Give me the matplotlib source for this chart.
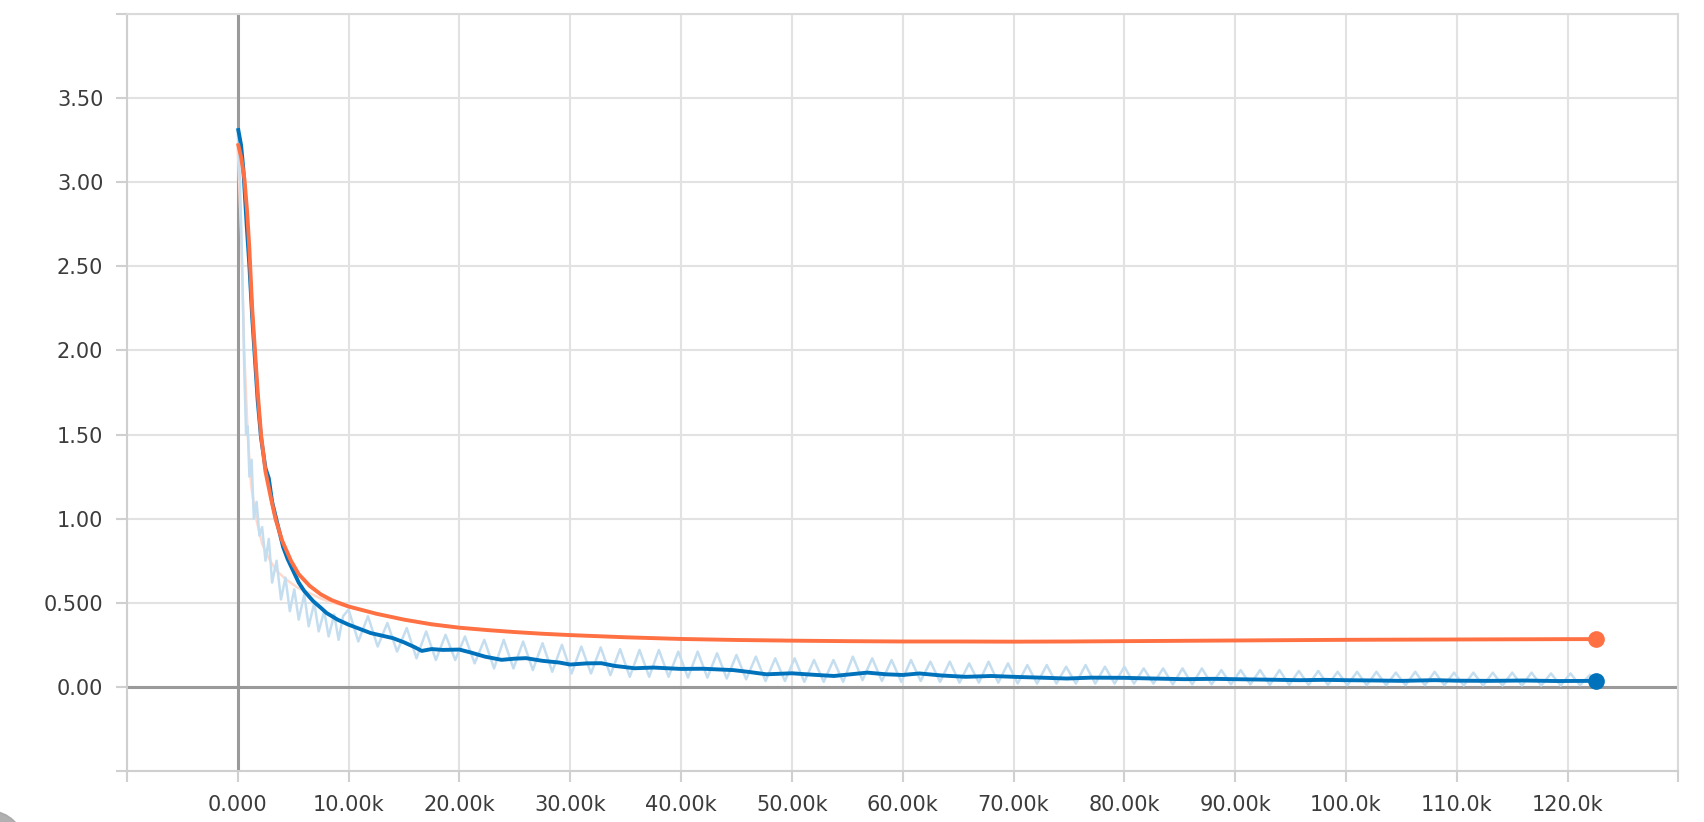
import numpy as np
import matplotlib.pyplot as plt
from matplotlib.patches import Circle
from matplotlib.transforms import IdentityTransform

# steps in thousands
blue_smooth_step = [0.05, 0.3, 0.5, 0.8, 1.05, 1.3, 1.55, 1.8, 2.1, 2.5, 2.8, 3.1, 3.5, 4.1, 4.5,
                    5.0, 5.5, 6.0, 6.8, 7.5, 8.0, 9.0, 10, 11, 12, 13, 14, 15, 16, 16.6, 17.5,
                    18.5, 20, 21, 22.3, 23.8, 25, 26, 27.5, 29, 30, 31.5, 32.8, 34, 35.8, 37.5,
                    40, 42, 44.7, 46, 47.7, 50, 52, 53.8, 56.8, 58.5, 60, 61.5, 63.5, 65.7, 68,
                    70, 72.5, 74.8, 77, 80, 82.5, 85.4, 88, 90, 93, 95.8, 98, 100, 103, 105,
                    108, 110, 113, 116, 119, 122.6]
blue_smooth = [3.31, 3.22, 3.08, 2.75, 2.5, 2.2, 1.95, 1.7, 1.48, 1.3, 1.24, 1.1, 0.99, 0.83, 0.76,
               0.69, 0.62, 0.57, 0.51, 0.47, 0.44, 0.40, 0.37, 0.345, 0.32, 0.305, 0.29, 0.265,
               0.235, 0.214, 0.225, 0.22, 0.222, 0.205, 0.18, 0.161, 0.168, 0.171, 0.155, 0.145,
               0.133, 0.14, 0.141, 0.125, 0.111, 0.115, 0.107, 0.108, 0.10, 0.09, 0.075, 0.081,
               0.072, 0.065, 0.085, 0.075, 0.071, 0.08, 0.068, 0.06, 0.065, 0.06, 0.055, 0.05,
               0.055, 0.054, 0.05, 0.046, 0.048, 0.046, 0.043, 0.04, 0.042, 0.04, 0.038, 0.036,
               0.04, 0.037, 0.036, 0.038, 0.035, 0.036]

orange_smooth_step = [0.05, 0.3, 0.6, 0.85, 1.05, 1.3, 1.55, 1.8, 2.1, 2.5, 3.0, 3.4, 4.0, 4.8, 5.5,
                      6.5, 7.5, 8.5, 10, 12.5, 15, 17.5, 20, 22.5, 25, 27.5, 30, 35, 40, 45, 50,
                      55, 60, 65, 70, 75, 80, 85, 90, 95, 100, 105, 110, 115, 120, 122.6]
orange_smooth = [3.22, 3.15, 3.02, 2.82, 2.6, 2.25, 2.0, 1.75, 1.5, 1.28, 1.12, 1.0, 0.87, 0.75, 0.67,
                 0.6, 0.55, 0.515, 0.478, 0.435, 0.4, 0.372, 0.352, 0.338, 0.326, 0.316, 0.308,
                 0.295, 0.285, 0.279, 0.275, 0.272, 0.27, 0.27, 0.269, 0.27, 0.272, 0.274, 0.276,
                 0.278, 0.28, 0.281, 0.282, 0.283, 0.284, 0.284]

orange_raw_step = [0.0, 0.3, 0.58, 0.9, 1.2, 1.66, 2.2, 2.86, 3.5, 4.4, 5.4, 6.5, 7.5, 8.6, 10, 11,
                   12.5, 15, 20, 25, 30, 40, 50, 60, 70, 80, 90, 100, 110, 122.6]
orange_raw = [3.2, 2.7, 2.0, 1.5, 1.2, 1.0, 0.85, 0.756, 0.69, 0.637, 0.59, 0.557, 0.525, 0.5,
              0.475, 0.46, 0.435, 0.4, 0.352, 0.326, 0.308, 0.285, 0.275, 0.27, 0.269, 0.272,
              0.276, 0.28, 0.282, 0.284]

blue_raw_early_step = [0.0, 0.2, 0.4, 0.6, 0.75, 0.9, 1.05, 1.25, 1.45, 1.7, 1.95, 2.2, 2.5, 2.8,
                       3.1, 3.5, 3.9, 4.3, 4.7, 5.1, 5.5, 6.0, 6.4, 6.9, 7.3, 7.8, 8.2, 8.7, 9.1, 9.5]
blue_raw_early = [3.31, 3.0, 2.5, 1.85, 1.5, 1.55, 1.25, 1.35, 1.0, 1.1, 0.9, 0.95, 0.75, 0.88,
                  0.62, 0.75, 0.52, 0.65, 0.45, 0.58, 0.4, 0.55, 0.36, 0.5, 0.33, 0.45, 0.3, 0.43,
                  0.28, 0.42]
# logged every 0.875k steps from 10k on
blue_raw_late = [0.46, 0.27, 0.42, 0.24, 0.38, 0.21, 0.35, 0.17, 0.33, 0.16, 0.31, 0.16, 0.30, 0.14,
                 0.28, 0.11, 0.28, 0.11, 0.27, 0.10, 0.26, 0.09, 0.25, 0.08, 0.24, 0.08, 0.235, 0.07,
                 0.225, 0.06, 0.22, 0.06, 0.22, 0.06, 0.21, 0.055, 0.21, 0.055, 0.20, 0.05, 0.19,
                 0.045, 0.18, 0.035, 0.17, 0.035, 0.17, 0.03, 0.16, 0.03, 0.16, 0.03, 0.18, 0.04,
                 0.17, 0.035, 0.16, 0.03, 0.16, 0.035, 0.15, 0.03, 0.15, 0.025, 0.14, 0.025, 0.15,
                 0.025, 0.14, 0.02, 0.13, 0.02, 0.13, 0.02, 0.12, 0.02, 0.13, 0.02, 0.12, 0.02, 0.12,
                 0.02, 0.11, 0.02, 0.11, 0.015, 0.11, 0.015, 0.11, 0.015, 0.10, 0.015, 0.10, 0.015,
                 0.10, 0.012, 0.10, 0.012, 0.095, 0.012, 0.095, 0.012, 0.09, 0.01, 0.09, 0.01, 0.09,
                 0.01, 0.085, 0.01, 0.09, 0.01, 0.09, 0.01, 0.085, 0.008, 0.085, 0.008, 0.085, 0.008,
                 0.085, 0.008, 0.085, 0.008, 0.08, 0.008, 0.08, 0.01, 0.07]
blue_raw_late_step = np.arange(len(blue_raw_late)) * 0.875 + 10.0

x_ticks = np.arange(-10, 131, 10)
x_labels = ['', '0.000', '10.00k', '20.00k', '30.00k', '40.00k', '50.00k', '60.00k', '70.00k',
            '80.00k', '90.00k', '100.0k', '110.0k', '120.0k', '']
y_ticks = np.arange(-0.5, 4.01, 0.5)
y_labels = ['', '0.00', '0.500', '1.00', '1.50', '2.00', '2.50', '3.00', '3.50', '']

blue = '#0072bb'
orange = '#ff7043'

fig = plt.figure(figsize=(17.04, 8.22), dpi=100)
ax = fig.add_axes([0.0745, 0.062, 0.9105, 0.921])

ax.plot(orange_raw_step, orange_raw, color='#ffd9cc', lw=1.8, zorder=2)
ax.plot(blue_raw_early_step + list(blue_raw_late_step), blue_raw_early + blue_raw_late,
        color='#c4def0', lw=1.8, zorder=2)
ax.plot(blue_smooth_step, blue_smooth, color=blue, lw=2.8, zorder=3)
ax.plot(orange_smooth_step, orange_smooth, color=orange, lw=2.8, zorder=4)
ax.plot(blue_smooth_step[-1], blue_smooth[-1], 'o', color=blue, ms=11, zorder=5)
ax.plot(orange_smooth_step[-1], orange_smooth[-1], 'o', color=orange, ms=11, zorder=5)

ax.axhline(0, color='#9a9a9a', lw=2.2, zorder=1.5)
ax.axvline(0, color='#9a9a9a', lw=2.2, zorder=1.5)

ax.set_xlim(-10, 130)
ax.set_ylim(-0.5, 4.0)
ax.set_xticks(x_ticks)
ax.set_xticklabels(x_labels)
ax.set_yticks(y_ticks)
ax.set_yticklabels(y_labels)
ax.grid(True, color='#e2e2e2', lw=1.5, zorder=0)
ax.set_axisbelow(True)
for s in ax.spines.values():
    s.set_color('#dadada')
    s.set_linewidth(1.5)
ax.spines['left'].set_color('#cfcfcf')
ax.spines['bottom'].set_color('#cfcfcf')
ax.tick_params(length=8, width=1.5, color='#d0d0d0', labelcolor='#3c3c3c',
               labelsize=15, pad=9)

# grey blob in the lower left corner of the screenshot
fig.patches.append(Circle((-10, -23), 34, transform=IdentityTransform(),
                          color='#a3a3a3', alpha=0.85, zorder=10))

fig.savefig('out.png', dpi=100)
